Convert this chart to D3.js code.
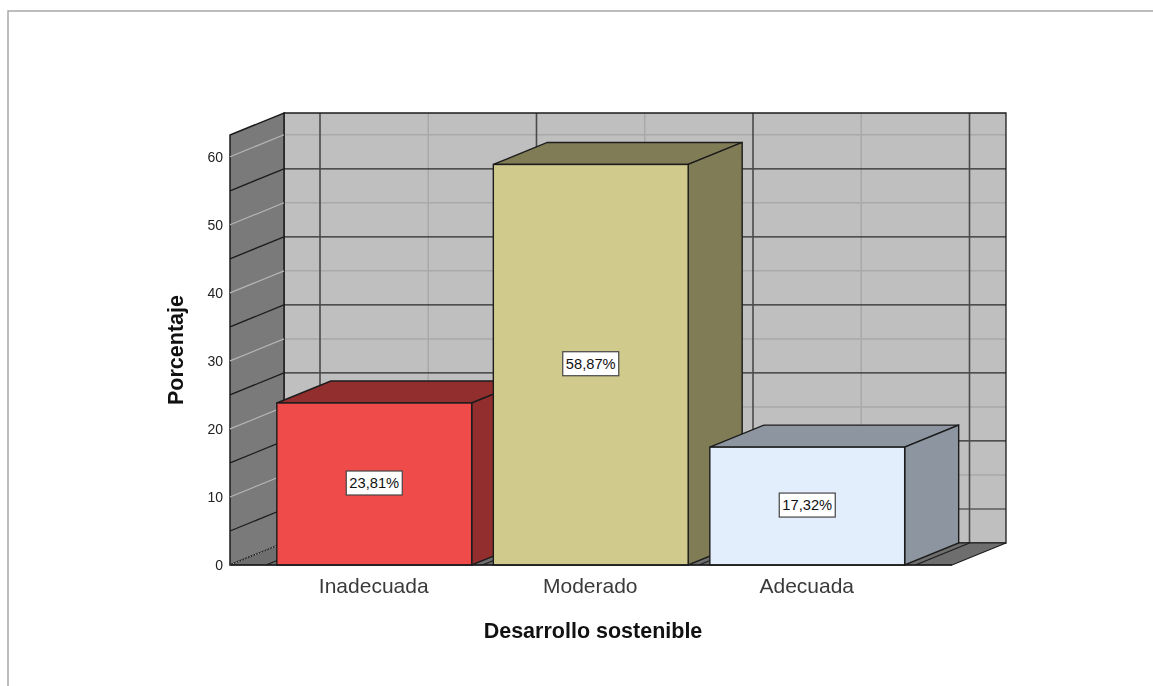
<!DOCTYPE html>
<meta charset="utf-8">

<style>
    html, body { margin: 0; padding: 0; background: #fff; }
    svg { display: block; filter: blur(0.35px); }
    text { font-family: "Liberation Sans", Arial, sans-serif; }
    .ytick text { font-size: 14px; fill: #222; }
    .xtick text { font-size: 21px; fill: #3a3a3a; }
    .title { font-size: 21.5px; font-weight: bold; fill: #111; }
    .lab { font-size: 14.7px; fill: #111; }
</style>

<body>
<script src="https://d3js.org/d3.v7.min.js"></script>
<script>
    var categories = ["Inadecuada", "Moderado", "Adecuada"];
    var percents = [23.81, 58.87, 17.32];
    var percentLabels = ["23,81%", "58,87%", "17,32%"];
    var yTicks = [0, 10, 20, 30, 40, 50, 60];
    var darkLines = [5, 15, 25, 35, 45, 55];
    var barColors = ["#ef4b4b", "#d0ca8d", "#e2eefb"];
    var sideColors = ["#922e2e", "#807d56", "#8c95a0"];

    var W = 1153, H = 686;
    // the 3d offset of the back wall
    var dx = 54, dy = -22;

    var svg = d3.select("body").append("svg")
        .attr("width", W)
        .attr("height", H);

    // page border, only top and left show
    svg.append("path")
        .attr("d", "M8,690V11H1160")
        .attr("fill", "none")
        .attr("stroke", "#a8a8a8")
        .attr("stroke-width", 1.5);

    var y = d3.scaleLinear().domain([0, 63.2]).range([565, 135]);
    var x = d3.scaleBand().domain(categories).range([266, 915.5]).paddingInner(0.1).paddingOuter(0.05);
    var left = 230, right = 952, floorY = y(0), topY = y(63.2);

    function poly(pts) { return "M" + pts.join("L") + "Z"; }
    var ink = "#1c1c1c";

    // back wall
    svg.append("path")
        .attr("d", poly([[left + dx, topY + dy], [right + dx, topY + dy], [right + dx, floorY + dy], [left + dx, floorY + dy]]))
        .attr("fill", "#bfbfbf");

    // walls grid, light at the ticks, dark half way
    svg.selectAll(".wl").data(yTicks.slice(1)).enter().append("line")
        .attr("x1", left + dx).attr("x2", right + dx)
        .attr("y1", function(d) { return y(d) + dy; })
        .attr("y2", function(d) { return y(d) + dy; })
        .attr("stroke", "#a9a9a9").attr("stroke-width", 1.5);
    svg.selectAll(".vl").data(categories).enter().append("line")
        .attr("x1", function(d) { return x(d) + x.bandwidth() / 2 + dx; })
        .attr("x2", function(d) { return x(d) + x.bandwidth() / 2 + dx; })
        .attr("y1", topY + dy).attr("y2", floorY + dy)
        .attr("stroke", "#a9a9a9").attr("stroke-width", 1.5);
    svg.selectAll(".wd").data(darkLines).enter().append("line")
        .attr("x1", left + dx).attr("x2", right + dx)
        .attr("y1", function(d) { return y(d) + dy; })
        .attr("y2", function(d) { return y(d) + dy; })
        .attr("stroke", "#2a2a2a").attr("stroke-width", 1.2);
    var step = x.step();
    var splits = categories.map(function(d) { return x(d) - step * x.paddingInner() / 2; });
    splits.push(splits[2] + step);
    svg.selectAll(".vd").data(splits).enter().append("line")
        .attr("x1", function(d) { return d + dx; })
        .attr("x2", function(d) { return d + dx; })
        .attr("y1", topY + dy).attr("y2", floorY + dy)
        .attr("stroke", "#4a4a4a").attr("stroke-width", 1.6);
    svg.append("path")
        .attr("d", poly([[left + dx, topY + dy], [right + dx, topY + dy], [right + dx, floorY + dy], [left + dx, floorY + dy]]))
        .attr("fill", "none").attr("stroke", ink).attr("stroke-width", 1.3);

    // left wall
    svg.append("path")
        .attr("d", poly([[left, topY], [left + dx, topY + dy], [left + dx, floorY + dy], [left, floorY]]))
        .attr("fill", "#7a7a7a").attr("stroke", ink).attr("stroke-width", 1.5);
    svg.selectAll(".sl").data(yTicks.slice(1)).enter().append("line")
        .attr("x1", left).attr("x2", left + dx)
        .attr("y1", function(d) { return y(d); })
        .attr("y2", function(d) { return y(d) + dy; })
        .attr("stroke", "#b5b5b5").attr("stroke-width", 1.2);
    svg.selectAll(".sd").data(darkLines).enter().append("line")
        .attr("x1", left).attr("x2", left + dx)
        .attr("y1", function(d) { return y(d); })
        .attr("y2", function(d) { return y(d) + dy; })
        .attr("stroke", "#1c1c1c").attr("stroke-width", 1.3);

    // floor
    svg.append("path")
        .attr("d", poly([[left, floorY], [left + dx, floorY + dy], [right + dx, floorY + dy], [right, floorY]]))
        .attr("fill", "#6e6e6e").attr("stroke", ink).attr("stroke-width", 1.2);
    svg.append("line")
        .attr("x1", left).attr("x2", left + dx)
        .attr("y1", floorY).attr("y2", floorY + dy)
        .attr("stroke", "#b5b5b5").attr("stroke-dasharray", "1.5 1.5");
    svg.selectAll(".fl").data(splits).enter().append("line")
        .attr("x1", function(d) { return d; })
        .attr("x2", function(d) { return d + dx; })
        .attr("y1", floorY).attr("y2", floorY + dy)
        .attr("stroke", "#1c1c1c").attr("stroke-width", 1.2);

    // bars, back faces first so the next one covers the side
    var bars = svg.selectAll(".bar").data(categories).enter().append("g").attr("class", "bar");
    bars.append("path")
        .attr("d", function(d, i) {
            var a = x(d), b = a + x.bandwidth(), t = y(percents[i]);
            return poly([[a, t], [a + dx, t + dy], [b + dx, t + dy], [b, t]]);
        })
        .attr("fill", function(d, i) { return sideColors[i]; })
        .attr("stroke", ink).attr("stroke-width", 1.4);
    bars.append("path")
        .attr("d", function(d, i) {
            var b = x(d) + x.bandwidth(), t = y(percents[i]);
            return poly([[b, t], [b + dx, t + dy], [b + dx, floorY + dy], [b, floorY]]);
        })
        .attr("fill", function(d, i) { return sideColors[i]; })
        .attr("stroke", ink).attr("stroke-width", 1.4);
    bars.append("rect")
        .attr("x", function(d) { return x(d); })
        .attr("y", function(d, i) { return y(percents[i]); })
        .attr("width", x.bandwidth())
        .attr("height", function(d, i) { return floorY - y(percents[i]); })
        .attr("fill", function(d, i) { return barColors[i]; })
        .attr("stroke", ink).attr("stroke-width", 1.4);

    // value labels in their little boxes
    var labs = bars.append("g")
        .attr("transform", function(d, i) {
            return "translate(" + (x(d) + x.bandwidth() / 2) + "," + (y(percents[i] / 2) - 1) + ")";
        });
    labs.append("rect")
        .attr("x", -28).attr("y", -12).attr("width", 56).attr("height", 24)
        .attr("fill", "#fff").attr("stroke", "#444").attr("stroke-width", 1.2);
    labs.append("text")
        .attr("class", "lab")
        .attr("text-anchor", "middle")
        .attr("dy", "0.36em")
        .text(function(d, i) { return percentLabels[i]; });

    // axes
    var yAxis = d3.axisLeft(y).tickValues(yTicks).tickSize(0).tickPadding(7);
    var gy = svg.append("g").attr("class", "ytick").attr("transform", "translate(" + left + ",0.5)").call(yAxis);
    gy.select(".domain").remove();

    var xAxis = d3.axisBottom(x).tickSize(0).tickPadding(13);
    var gx = svg.append("g").attr("class", "xtick").attr("transform", "translate(-0.5," + floorY + ")").call(xAxis);
    gx.select(".domain").remove();
    svg.append("line")
        .attr("x1", left).attr("x2", right)
        .attr("y1", floorY).attr("y2", floorY)
        .attr("stroke", ink).attr("stroke-width", 1.5);

    svg.append("text").attr("class", "title")
        .attr("x", 593).attr("y", 638)
        .attr("text-anchor", "middle")
        .text("Desarrollo sostenible");
    svg.append("text").attr("class", "title")
        .attr("transform", "translate(183,350) rotate(-90)")
        .attr("text-anchor", "middle")
        .text("Porcentaje");
</script>
</body>
